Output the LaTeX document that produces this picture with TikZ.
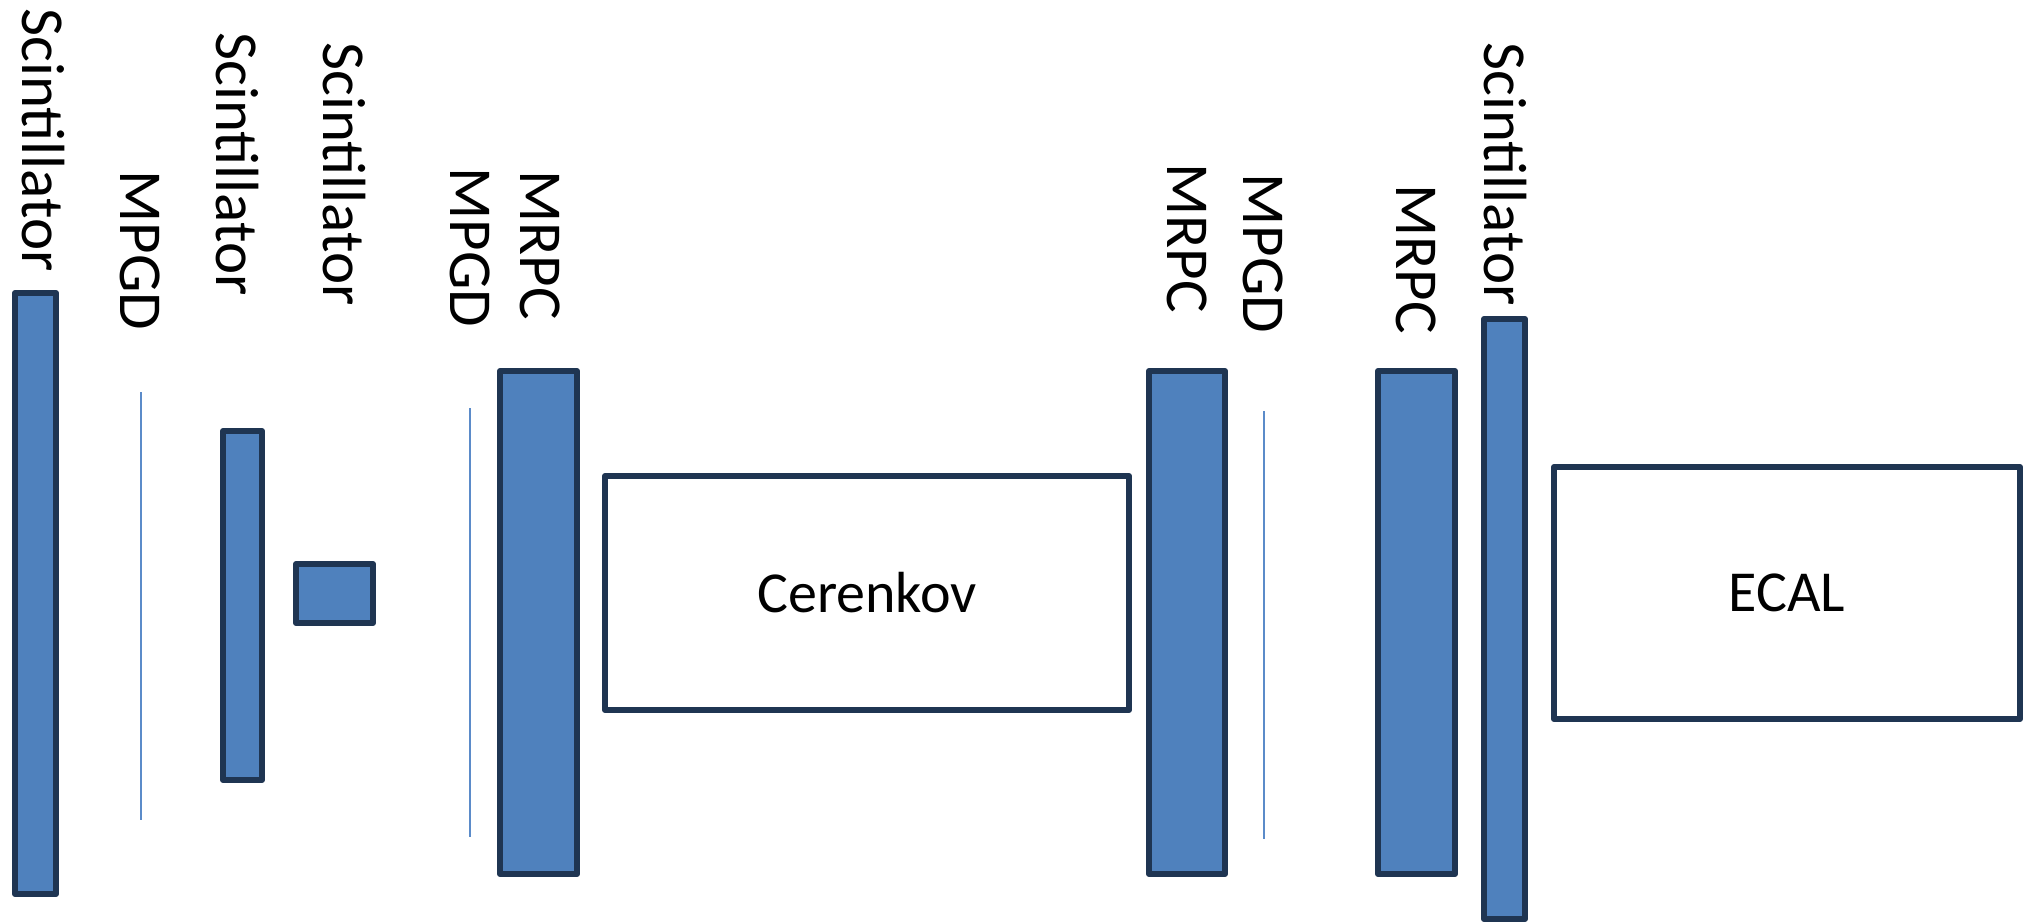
\documentclass[tikz,border=0pt]{standalone}
\usepackage{fontspec}
\setmainfont{Carlito}
\definecolor{boxfill}{HTML}{4F81BD}
\definecolor{boxline}{HTML}{1F3552}
\definecolor{foil}{HTML}{5B8BC9}
\begin{document}
\begin{tikzpicture}[x=0.5pt,y=-0.5pt,
  lbl/.style={rotate=-90,anchor=west,inner sep=0pt,font=\fontsize{30.5}{36}\selectfont},
  det/.style={draw=boxline,fill=boxfill,line width=3pt,line join=round,rectangle,inner sep=0pt},
  blk/.style={draw=boxline,fill=white,line width=3pt,line join=round,rectangle,inner sep=0pt,font=\fontsize{29}{34}\selectfont},
  foilline/.style={draw=foil,line width=0.9pt}]
\useasboundingbox (0,0) rectangle (2023,922);
% labels
\node[lbl] (l1) at (43,8) {Scintillator};
\node[lbl] (l2) at (140,170) {MPGD};
\node[lbl] (l3) at (237,32) {Scintillator};
\node[lbl] (l4) at (344,42) {Scintillator};
\node[lbl] (l5) at (470,167) {MPGD};
\node[lbl] (l6) at (540,170) {MRPC};
\node[lbl] (l7) at (1187,163) {MRPC};
\node[lbl] (l8) at (1263,173) {MPGD};
\node[lbl] (l9) at (1416,184) {MRPC};
\node[lbl] (l10) at (1505,42) {Scintillator};
% detector boxes
\node[det,minimum width=20.5pt,minimum height=300.5pt] (sc1) at (35.5,593.5) {};
\node[det,minimum width=19.5pt,minimum height=174.5pt] (sc2) at (242.5,605.5) {};
\node[det,minimum width=38.5pt,minimum height=29.5pt] (sc3) at (334.5,593.5) {};
\node[det,minimum width=38.5pt,minimum height=251.5pt] (mrpc1) at (538.5,622.5) {};
\node[blk,minimum width=262pt,minimum height=117pt] (cer) at (867,593) {Cerenkov};
\node[det,minimum width=38pt,minimum height=251.5pt] (mrpc2) at (1187,622.5) {};
\node[det,minimum width=38.5pt,minimum height=251.5pt] (mrpc3) at (1416.5,622.5) {};
\node[det,minimum width=20.5pt,minimum height=300pt] (sc4) at (1504.5,619) {};
\node[blk,minimum width=233pt,minimum height=126pt] (ecal) at (1787,593) {ECAL};
% MPGD foils
\coordinate (m1t) at (141,392); \coordinate (m1b) at (141,820);
\coordinate (m2t) at (470,408); \coordinate (m2b) at (470,837);
\coordinate (m3t) at (1264,411); \coordinate (m3b) at (1264,839);
\draw[foilline] (m1t) -- (m1b);
\draw[foilline] (m2t) -- (m2b);
\draw[foilline] (m3t) -- (m3b);
\end{tikzpicture}
\end{document}
